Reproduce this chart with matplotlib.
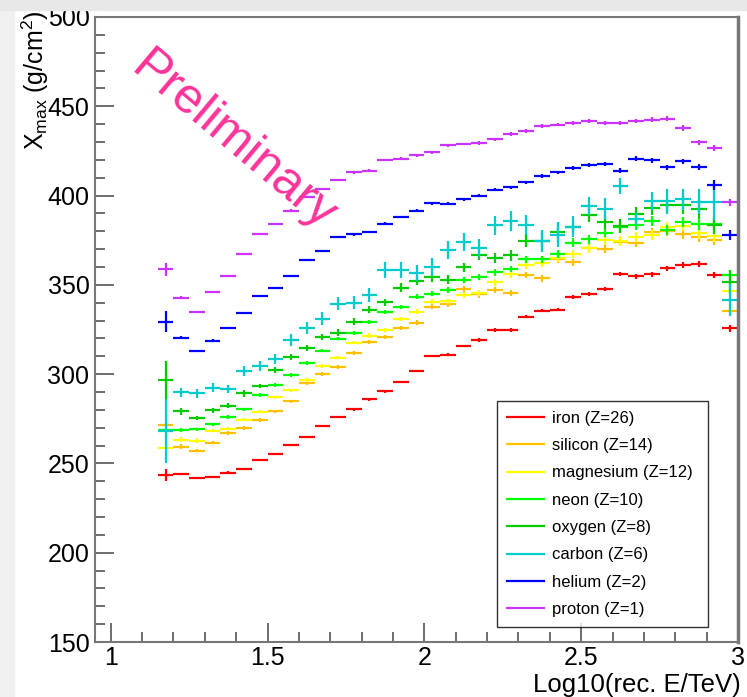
import matplotlib
matplotlib.use("Agg")
import matplotlib.pyplot as plt
from matplotlib.lines import Line2D
from matplotlib.patches import Rectangle
import numpy as np

plt.rcParams["font.family"] = ["Liberation Sans", "DejaVu Sans"]
plt.rcParams["mathtext.fontset"] = "custom"
plt.rcParams["mathtext.rm"] = "Liberation Sans"
plt.rcParams["mathtext.it"] = "Liberation Sans"

# bin centres of log10(E/TeV), bins 0.05 wide from 1.15 to 3.0
bin_lo = 1.15
bin_w = 0.05
n_bins = 37

iron = [243.6, 244.1, 241.9, 242.4, 244.9, 246.9, 251.9, 255.5, 260.5, 265.0, 271.2, 275.9, 280.3,
        285.9, 290.4, 295.6, 301.8, 310.2, 310.8, 315.8, 319.1, 324.7, 324.7, 332.2, 335.6, 336.1,
        343.1, 344.8, 347.5, 355.9, 354.8, 355.9, 359.3, 361.1, 361.7, 355.5, 325.7]
silicon = [271.5, 259.4, 257.2, 261.6, 267.0, 269.8, 274.3, 279.2, 284.8, 294.9, 300.1, 304.0, 312.0,
           318.2, 321.0, 325.8, 328.9, 337.8, 339.3, 347.5, 344.7, 347.1, 345.3, 355.5, 353.7, 364.3,
           362.6, 370.5, 370.1, 374.2, 373.7, 379.5, 380.0, 378.3, 377.0, 375.1, 335.6]
magnesium = [258.9, 263.3, 262.8, 268.4, 269.5, 274.5, 279.0, 287.0, 290.9, 296.6, 304.6, 309.3, 317.7,
             321.6, 324.7, 330.9, 335.0, 340.6, 340.8, 344.2, 345.6, 351.4, 356.0, 361.1, 362.0, 365.0,
             367.3, 370.5, 375.1, 374.6, 376.7, 377.8, 382.2, 382.9, 378.9, 377.4, 346.8]
neon = [268.6, 268.6, 269.1, 271.9, 275.9, 280.3, 288.2, 293.8, 299.4, 306.1, 313.2, 319.9, 323.2,
        329.4, 335.0, 337.8, 343.4, 345.1, 347.1, 352.9, 354.4, 357.0, 358.9, 364.4, 364.3, 367.2,
        373.7, 375.5, 379.3, 382.6, 383.5, 385.5, 380.7, 385.2, 384.1, 384.1, 355.5]
oxygen = [296.8, 279.2, 275.3, 279.8, 282.4, 289.3, 293.4, 302.4, 309.6, 314.7, 320.8, 323.2, 329.4,
          336.1, 340.2, 348.3, 352.4, 354.3, 352.8, 359.9, 366.7, 365.0, 366.5, 374.8, 374.8, 379.8,
          382.3, 389.3, 385.4, 382.8, 389.5, 393.1, 394.6, 394.6, 392.3, 383.5, 351.8]
carbon = [268.0, 289.9, 289.3, 292.3, 291.7, 301.8, 304.6, 308.5, 319.1, 325.8, 331.1, 339.5, 340.0,
          344.2, 358.3, 358.3, 356.5, 360.2, 369.5, 374.0, 370.8, 383.3, 385.7, 383.5, 374.5, 378.0,
          382.6, 394.0, 392.7, 405.5, 386.9, 396.8, 396.8, 397.9, 396.6, 396.6, 341.5]
helium = [329.4, 320.4, 313.2, 318.8, 326.0, 334.1, 343.6, 348.1, 354.8, 363.8, 369.0, 377.0, 378.3,
          379.6, 384.3, 388.0, 391.6, 395.7, 395.5, 397.9, 400.0, 403.3, 404.6, 407.4, 411.1, 413.0,
          415.2, 416.9, 417.6, 414.0, 420.7, 419.8, 416.0, 419.2, 416.0, 405.9, 378.0]
proton = [358.7, 342.9, 335.0, 345.8, 354.8, 367.1, 378.5, 384.1, 391.6, 399.4, 403.9, 408.6, 413.0,
          414.0, 419.8, 420.7, 422.5, 424.2, 428.1, 428.9, 429.5, 431.5, 434.5, 436.2, 439.0, 439.7,
          440.5, 441.6, 440.7, 440.7, 441.8, 442.5, 443.1, 437.8, 429.8, 426.7, 396.2]

# statistical errors on Xmax (g/cm2)
iron_err = [3.5, 0.8, 0.6, 0.6, 0.6, 0.6, 0.6, 0.6, 0.6, 0.6, 0.6, 0.6, 0.7, 0.7, 0.7, 0.7, 0.8, 0.8, 0.8,
            0.8, 0.9, 0.9, 0.9, 1.0, 1.0, 1.0, 1.1, 1.1, 1.2, 1.2, 1.3, 1.3, 1.4, 1.5, 1.5, 1.7, 2.0]
silicon_err = [1.0, 1.5, 1.0, 1.0, 1.0, 1.0, 1.0, 1.0, 1.0, 1.0, 1.0, 1.0, 1.0, 1.2, 1.2, 1.2, 1.3, 1.4, 1.5,
               2.0, 2.0, 1.6, 1.6, 1.8, 1.9, 2.0, 2.0, 2.2, 2.3, 2.4, 2.5, 2.5, 2.6, 2.7, 2.8, 3.0, 1.5]
magnesium_err = [1.0, 1.5, 1.2, 1.0, 1.0, 1.0, 1.0, 1.0, 1.0, 1.0, 1.0, 1.0, 1.0, 1.2, 1.2, 1.2, 1.3, 1.4, 1.5,
                 1.6, 1.7, 1.8, 1.9, 2.0, 2.1, 2.2, 2.3, 2.4, 2.5, 2.6, 2.7, 2.8, 2.9, 3.0, 3.1, 3.2, 1.5]
neon_err = [1.0, 1.0, 1.0, 1.0, 1.0, 1.0, 1.0, 1.0, 1.0, 1.0, 1.0, 1.0, 1.0, 1.2, 1.2, 1.2, 1.3, 1.4, 1.5,
            1.6, 1.7, 1.8, 1.9, 2.0, 2.1, 2.2, 2.3, 2.4, 2.5, 2.6, 2.7, 2.8, 2.9, 3.0, 3.1, 3.2, 3.0]
oxygen_err = [10.6, 2.0, 1.2, 1.5, 1.2, 2.0, 1.2, 1.5, 1.5, 1.5, 1.5, 2.0, 2.0, 2.0, 2.0, 2.5, 2.5, 2.5, 2.5,
              2.5, 3.0, 3.0, 3.0, 3.5, 3.5, 5.0, 3.5, 4.0, 4.0, 4.0, 4.0, 4.0, 4.5, 5.0, 5.0, 5.0, 6.5]
carbon_err = [18.0, 2.5, 2.5, 2.5, 2.5, 3.0, 3.0, 3.0, 3.5, 3.5, 3.5, 3.5, 3.5, 4.0, 4.5, 4.5, 4.5, 5.0, 5.0,
              5.0, 5.0, 5.5, 5.5, 5.5, 6.0, 7.0, 6.0, 5.0, 6.0, 4.5, 3.5, 5.0, 7.0, 6.0, 7.0, 10.0, 9.0]
helium_err = [6.0, 0.8, 0.6, 0.6, 0.6, 0.6, 0.6, 0.6, 0.6, 0.6, 0.6, 0.6, 0.7, 0.7, 0.7, 0.7, 0.8, 0.8, 0.8,
              0.8, 0.9, 0.9, 0.9, 1.0, 1.0, 1.0, 1.1, 1.1, 1.2, 1.2, 1.3, 1.3, 1.4, 1.5, 1.5, 3.0, 3.0]
proton_err = [3.5, 0.8, 0.6, 0.6, 0.6, 0.6, 0.6, 0.6, 0.6, 0.6, 0.6, 0.6, 0.7, 0.7, 0.7, 0.7, 0.8, 0.8, 0.8,
              0.8, 0.9, 0.9, 0.9, 1.0, 1.0, 1.0, 1.1, 1.1, 1.2, 1.2, 1.3, 1.3, 1.4, 1.5, 1.5, 1.7, 2.0]

labels = ["iron (Z=26)", "silicon (Z=14)", "magnesium (Z=12)", "neon (Z=10)",
          "oxygen (Z=8)", "carbon (Z=6)", "helium (Z=2)", "proton (Z=1)"]
colors = ["#ff0000", "#ffc000", "#ffff00", "#00ff00", "#00cc00", "#00cccc", "#0000ff", "#cc33ff"]
series = [iron, silicon, magnesium, neon, oxygen, carbon, helium, proton]
errors = [iron_err, silicon_err, magnesium_err, neon_err, oxygen_err, carbon_err, helium_err, proton_err]

x = bin_lo + bin_w * (np.arange(n_bins) + 0.5)

fig = plt.figure(figsize=(7.47, 6.97), dpi=100)
# screenshot chrome around the canvas
fig.patches.append(Rectangle((0, 0), 14 / 747, 1, transform=fig.transFigure, color="#f0f0f0", zorder=0))
fig.patches.append(Rectangle((0, 1 - 10 / 697), 1, 10 / 697, transform=fig.transFigure, color="#e8e8e8", zorder=0))

ax = fig.add_axes([95 / 747, 1 - 642 / 697, 643 / 747, 625 / 697])

for vals, errs, col in zip(series, errors, colors):
    ax.errorbar(x, vals, xerr=bin_w / 2, yerr=errs, fmt="none", ecolor=col, elinewidth=1.6, capsize=0)

ax.set_xlim(0.95, 3.0)
ax.set_ylim(150, 500)
ax.set_xticks([1, 1.5, 2, 2.5, 3])
ax.set_xticklabels(["1", "1.5", "2", "2.5", "3"])
ax.set_xticks(np.arange(1.0, 3.0, 0.1), minor=True)
ax.set_yticks(np.arange(150, 501, 50))
ax.set_yticks(np.arange(150, 500, 10), minor=True)
ax.tick_params(which="both", direction="in", top=False, right=False, colors="#555555",
               labelcolor="black", labelsize=18, width=1.2)
ax.tick_params(which="major", length=14)
ax.tick_params(which="minor", length=7)
ax.tick_params(axis="x", pad=3)
ax.tick_params(axis="y", pad=4)
for side in ax.spines.values():
    side.set_color("#777777")
    side.set_linewidth(1.5)
ax.spines["right"].set_linewidth(2.5)

fig.text(35 / 747, 1 - 10 / 697, r"X$_{\mathrm{max}}$ (g/cm$^{2}$)", rotation=90,
         ha="center", va="top", fontsize=18)
fig.text(741 / 747, 0, "Log10(rec. E/TeV)", ha="right", va="bottom", fontsize=18.5)

ax.text(0.215, 0.80, "Preliminary", transform=ax.transAxes, rotation=-40, color="#ff3399",
        fontsize=36, ha="center", va="center", rotation_mode="anchor")

handles = [Line2D([], [], color=c, lw=1.6) for c in colors]
leg = ax.legend(handles, labels, loc="lower left", bbox_to_anchor=(0.625, 0.024, 0.328, 0.35),
                mode="expand", fontsize=12, frameon=True, fancybox=False, edgecolor="black",
                handlelength=2.2, labelspacing=0.74, borderpad=0.6, handletextpad=0.5,
                borderaxespad=0)
leg.get_frame().set_linewidth(1.0)

fig.savefig("out.png", dpi=100)
